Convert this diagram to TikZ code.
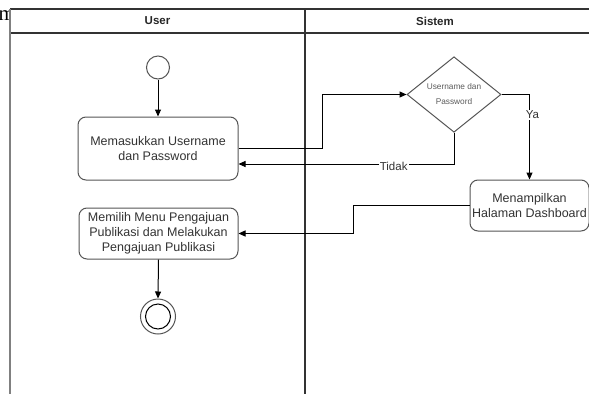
\documentclass[tikz,border=0pt]{standalone}
\usepackage{fontspec}
\setmainfont{Liberation Sans}
\newfontfamily\serifbg{Liberation Serif}
\usetikzlibrary{arrows.meta,shapes.geometric,calc}
\definecolor{txt}{HTML}{333333}
\definecolor{edge}{HTML}{555555}
\tikzset{
  actbox/.style={draw=edge, line width=1pt, rounded corners=8pt, align=center,
    text=txt, font=\fontsize{12.5}{15}\selectfont, inner sep=0pt},
  conn/.style={line width=1pt, draw=black, -{Triangle[length=7pt,width=6pt]}},
  plain/.style={line width=1pt, draw=black},
  lane/.style={line width=1.3pt},
  hdr/.style={font=\bfseries\fontsize{11.5}{13}\selectfont, text=black!85},
  elabel/.style={font=\fontsize{11.5}{13}\selectfont, fill=white, inner sep=1pt, text=txt}
}
\begin{document}
\begin{tikzpicture}[x=1pt,y=-1pt]
\useasboundingbox (0,0) rectangle (589,394);
% background text fragment
\node[anchor=base west, inner sep=0pt, font=\serifbg\fontsize{21}{21}\selectfont] (bgm) at (-1.5,20) {m};
% swimlanes
\fill[white] (10,9) rectangle (589,394);
\draw[lane, draw=black!80] (10,9) -- (589,9);
\draw[lane, draw=black!80] (10,33) -- (589,33);
\draw[lane, draw=black!50] (10,9) -- (10,394);
\draw[lane, draw=black!80] (305,9) -- (305,394);
\node[hdr] (huser) at (157.5,21) {User};
\node[hdr] (hsis) at (435,21) {Sistem};
% nodes
\node[circle, draw=edge, line width=1pt, minimum size=23pt, inner sep=0pt] (start) at (158,67.5) {};
\node[actbox, minimum width=160pt, minimum height=63pt] (b1) at (158,148.5) {Memasukkan Username\\dan Password};
\node[diamond, draw=edge, line width=1pt, minimum width=94pt, minimum height=61pt, inner sep=0pt,
  align=center, text=txt!80, font=\fontsize{8.3}{15}\selectfont] (d) at (454,94.5) {Username dan\\Password};
\node[actbox, minimum width=119pt, minimum height=51pt] (b2) at (529.5,205.5) {Menampilkan\\Halaman Dashboard};
\node[actbox, minimum width=159pt, minimum height=51pt] (b3) at (158.5,233.5) {Memilih Menu Pengajuan\\Publikasi dan Melakukan\\Pengajuan Publikasi};
\node[circle, draw=edge, line width=1pt, minimum size=35pt, inner sep=0pt] (endo) at (158,316.5) {};
\node[circle, draw=black, line width=1pt, minimum size=25pt, inner sep=0pt] (endi) at (158,316.5) {};
% connectors
\draw[conn] (start) -- (b1);
\draw[conn] (b1.east) -- ++(84,0) |- (d.west);
\draw[conn] (d.south) |- node[elabel, pos=0.64, yshift=-2pt] (ltidak) {Tidak} ([yshift=-15.5pt]b1.east);
\draw[conn] (d.east) -| node[elabel, pos=0.62, xshift=3pt] (lya) {Ya} (b2.north);
\draw[conn] (b2.west) -- ++(-116.5,0) |- (b3.east);
\draw[conn] (b3.south) -- (endo.north);
\end{tikzpicture}
\end{document}
